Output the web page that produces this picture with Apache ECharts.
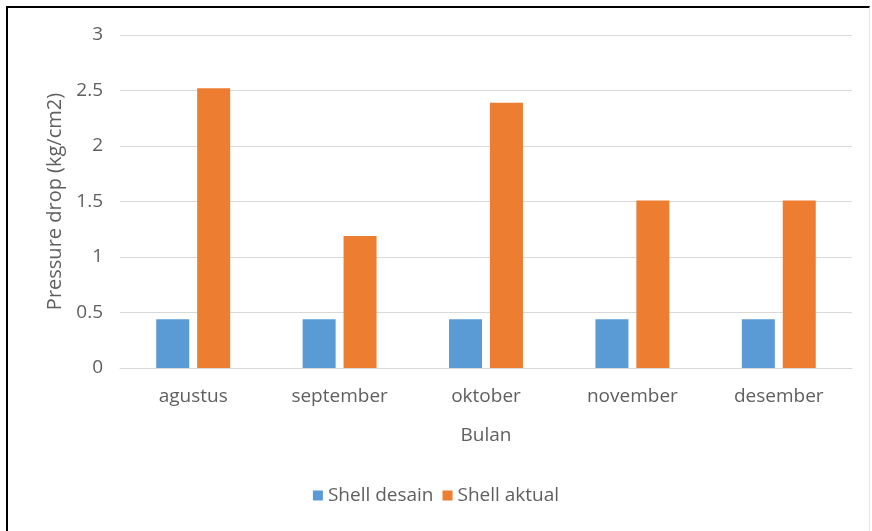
<!DOCTYPE html>
<html>
<head>
<meta charset="utf-8">
<script src="https://cdn.jsdelivr.net/npm/echarts@6/dist/echarts.min.js"></script>
<style>
  html, body { margin: 0; padding: 0; background: #fff; }
  #frame {
    position: absolute; left: 6px; top: 6px; width: 864px; height: 525px;
    border-top: 2px solid #000; border-left: 2px solid #000;
    border-right: 1px solid #e6e6e6; box-sizing: border-box;
  }
  #chart { position: absolute; left: 0; top: 0; width: 872px; height: 531px; }
</style>
</head>
<body>
<div id="frame"></div>
<div id="chart"></div>
<script>
// Monthly shell-side pressure drop, design vs. actual
const categories = ['agustus', 'september', 'oktober', 'november', 'desember'];
const shellDesain = [0.44, 0.44, 0.44, 0.44, 0.44];
const shellAktual = [2.52, 1.19, 2.39, 1.51, 1.51];
const yTicks = { min: 0, max: 3, interval: 0.5 };

const textColor = '#5f5f5f';
const fontFamily = '"Open Sans", "Noto Sans", sans-serif';

const chart = echarts.init(document.getElementById('chart'), null, { renderer: 'canvas' });
chart.setOption({
  animation: false,
  backgroundColor: 'transparent',
  textStyle: { fontFamily: fontFamily, color: textColor },
  grid: { left: 120, right: 20, top: 35, bottom: 163 },
  legend: {
    data: ['Shell desain', 'Shell aktual'],
    bottom: 21,
    left: 'center',
    itemWidth: 10,
    itemHeight: 10,
    itemGap: 9,
    icon: 'rect',
    textStyle: { fontSize: 19, color: textColor, fontFamily: fontFamily, padding: [0, 0, 0, 0] }
  },
  xAxis: {
    type: 'category',
    data: categories,
    name: 'Bulan',
    nameLocation: 'middle',
    nameGap: 58,
    nameTextStyle: { fontSize: 19, color: textColor },
    axisLine: { lineStyle: { color: '#d9d9d9', width: 1 } },
    axisTick: { show: false },
    axisLabel: { fontSize: 19, color: textColor, margin: 19 }
  },
  yAxis: {
    type: 'value',
    min: yTicks.min,
    max: yTicks.max,
    interval: yTicks.interval,
    name: 'Pressure drop (kg/cm2)',
    nameLocation: 'middle',
    nameGap: 55,
    nameTextStyle: { fontSize: 20, color: textColor },
    axisLine: { show: false },
    axisTick: { show: false },
    axisLabel: { fontSize: 19, color: textColor, margin: 17 },
    splitLine: { lineStyle: { color: '#d9d9d9', width: 1 } }
  },
  series: [
    {
      name: 'Shell desain',
      type: 'bar',
      data: shellDesain,
      barWidth: 33,
      barGap: '24%',
      itemStyle: { color: '#5B9BD5' }
    },
    {
      name: 'Shell aktual',
      type: 'bar',
      data: shellAktual,
      barWidth: 33,
      itemStyle: { color: '#ED7D31' }
    }
  ]
});
</script>
</body>
</html>
